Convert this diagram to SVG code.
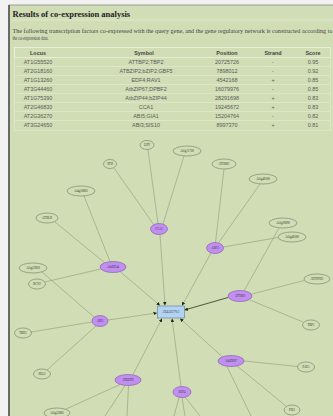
<svg xmlns="http://www.w3.org/2000/svg" width="333" height="416" viewBox="0 0 333 416">
<defs>
<marker id="arr" viewBox="0 0 10 10" refX="10" refY="5" markerWidth="3.5" markerHeight="3.5" orient="auto" markerUnits="userSpaceOnUse"><path d="M0,0 L10,5 L0,10 z" fill="#222"/></marker>
<style>
.ttl{font-family:"Liberation Serif",serif;font-weight:bold;font-size:8.5px;fill:#222}
.dsc{font-family:"Liberation Serif",serif;font-size:5.6px;fill:#444}
.th{font-family:"Liberation Sans",sans-serif;font-weight:bold;font-size:5.4px;fill:#444;text-anchor:middle}
.td{font-family:"Liberation Sans",sans-serif;font-size:5.4px;fill:#5a5a5a;text-anchor:middle}
.rl{stroke:#e6ecd6;stroke-width:0.6}
.e{stroke:#8d9b7a;stroke-width:0.6;fill:none}
.ea{stroke:#8d9b7a;stroke-width:0.6;fill:none;marker-end:url(#arr)}
.g ellipse{fill:none;stroke:#7d8a6c;stroke-width:0.7}
.p ellipse{fill:#c18ff2;stroke:#8b62ae;stroke-width:0.7}
.n text{font-family:"Liberation Serif",serif;font-size:3px;fill:#333;text-anchor:middle}
</style>
</defs>
<rect width="333" height="416" fill="#f2f2f2"/>
<rect x="9" y="5" width="330" height="420" fill="#d1ddb5" stroke="#8a8a8a" stroke-width="0.8"/>
<line x1="9" y1="5" x2="9" y2="416" stroke="#444" stroke-width="1.4"/>
<text class="ttl" x="12.5" y="16.5">Results of co-expression analysis</text>
<line x1="12" y1="20" x2="333" y2="20" stroke="#e6ecd6" stroke-width="0.7"/>
<text class="dsc" x="12.5" y="32.5" textLength="320" lengthAdjust="spacingAndGlyphs">The following transcription factors co-expressed with the query gene, and the gene regulatory network is constructed according to</text>
<text class="dsc" x="12.5" y="40" textLength="36" lengthAdjust="spacingAndGlyphs">the co-expression data.</text>
<rect x="14.5" y="47.5" width="316" height="83" fill="none" stroke="#e6ecd6" stroke-width="0.6"/>
<rect x="14.5" y="47.5" width="316" height="10" fill="none" stroke="#eef2e2" stroke-width="0.7"/>
<text class="th" x="38" y="55">Locus</text>
<text class="th" x="144" y="55">Symbol</text>
<text class="th" x="227" y="55">Position</text>
<text class="th" x="273" y="55">Strand</text>
<text class="th" x="313" y="55">Score</text>
<g>
<line class="rl" x1="15" y1="66.5" x2="330" y2="66.5"/>
<line class="rl" x1="15" y1="75.5" x2="330" y2="75.5"/>
<line class="rl" x1="15" y1="84.5" x2="330" y2="84.5"/>
<line class="rl" x1="15" y1="93.5" x2="330" y2="93.5"/>
<line class="rl" x1="15" y1="102.5" x2="330" y2="102.5"/>
<line class="rl" x1="15" y1="111.5" x2="330" y2="111.5"/>
<line class="rl" x1="15" y1="120.5" x2="330" y2="120.5"/>
</g>
<text class="td" x="38" y="64">AT1G55520</text><text class="td" x="146" y="64">ATTBP2;TBP2</text><text class="td" x="227" y="64">20725726</text><text class="td" x="273" y="64">-</text><text class="td" x="313" y="64">0.95</text>
<text class="td" x="38" y="73">AT2G18160</text><text class="td" x="146" y="73">ATBZIP2;bZIP2;GBF5</text><text class="td" x="227" y="73">7898012</text><text class="td" x="273" y="73">-</text><text class="td" x="313" y="73">0.92</text>
<text class="td" x="38" y="82">AT1G13260</text><text class="td" x="146" y="82">EDF4;RAV1</text><text class="td" x="227" y="82">4542168</text><text class="td" x="273" y="82">+</text><text class="td" x="313" y="82">0.85</text>
<text class="td" x="38" y="91">AT3G44460</text><text class="td" x="146" y="91">AtbZIP67;DPBF2</text><text class="td" x="227" y="91">16079976</text><text class="td" x="273" y="91">-</text><text class="td" x="313" y="91">0.85</text>
<text class="td" x="38" y="100">AT1G75390</text><text class="td" x="146" y="100">AtbZIP44;bZIP44</text><text class="td" x="227" y="100">28291698</text><text class="td" x="273" y="100">+</text><text class="td" x="313" y="100">0.83</text>
<text class="td" x="38" y="109">AT2G46830</text><text class="td" x="146" y="109">CCA1</text><text class="td" x="227" y="109">19245672</text><text class="td" x="273" y="109">+</text><text class="td" x="313" y="109">0.83</text>
<text class="td" x="38" y="118">AT2G36270</text><text class="td" x="146" y="118">ABI5;GIA1</text><text class="td" x="227" y="118">15204764</text><text class="td" x="273" y="118">-</text><text class="td" x="313" y="118">0.82</text>
<text class="td" x="38" y="127">AT3G24650</text><text class="td" x="146" y="127">ABI3;SIS10</text><text class="td" x="227" y="127">8997370</text><text class="td" x="273" y="127">+</text><text class="td" x="313" y="127">0.81</text>

<g id="connectors">
<line class="e" x1="148" y1="150" x2="158" y2="223.5"/>
<line class="e" x1="114" y1="168" x2="154" y2="225"/>
<line class="e" x1="184" y1="156" x2="163" y2="224"/>
<line class="ea" x1="160" y1="234.5" x2="165" y2="305.5"/>
<line class="e" x1="84" y1="196" x2="110" y2="261.5"/>
<line class="e" x1="55" y1="222" x2="105" y2="263"/>
<line class="e" x1="45" y1="282" x2="100.5" y2="269"/>
<line class="ea" x1="120" y1="271.5" x2="160" y2="305.5"/>
<line class="e" x1="42" y1="272" x2="94" y2="317"/>
<line class="e" x1="31" y1="332" x2="92" y2="322"/>
<line class="e" x1="47" y1="370" x2="96" y2="326"/>
<line class="ea" x1="108" y1="320" x2="157" y2="313"/>
<line class="e" x1="224" y1="169" x2="215.5" y2="242.5"/>
<line class="e" x1="260" y1="184" x2="218" y2="243.5"/>
<line class="e" x1="278" y1="237.5" x2="223.5" y2="247"/>
<line class="ea" x1="211" y1="253" x2="182" y2="305.5"/>
<line class="e" x1="279" y1="228" x2="244" y2="291"/>
<line class="e" x1="304" y1="280.5" x2="252" y2="294"/>
<line class="e" x1="303" y1="322" x2="250" y2="300"/>
<line x1="228" y1="297.5" x2="184.5" y2="310" stroke="#555e4a" stroke-width="1.1" marker-end="url(#arr)"/>
<line class="ea" x1="222" y1="356.5" x2="180" y2="318.5"/>
<line class="e" x1="297.5" y1="366.5" x2="244" y2="361"/>
<line class="e" x1="286" y1="406" x2="237" y2="366"/>
<line class="e" x1="227" y1="366.5" x2="251" y2="416"/>
<line class="ea" x1="181" y1="386.5" x2="172" y2="318.5"/>
<line class="e" x1="179" y1="397.5" x2="174" y2="416"/>
<line class="e" x1="182" y1="397.5" x2="185" y2="416"/>
<line class="e" x1="185" y1="397" x2="200" y2="416"/>
<line class="ea" x1="133" y1="374.5" x2="162" y2="318.5"/>
<line class="e" x1="120" y1="384.5" x2="66" y2="409"/>
<line class="e" x1="125" y1="385.5" x2="105" y2="416"/>
<line class="e" x1="128.5" y1="385.5" x2="127" y2="416"/>
</g>

<g id="n-center" class="n"><rect x="157.5" y="306" width="27" height="12" fill="#b3d3f2" stroke="#6a87a6" stroke-width="0.7"/><text x="171" y="313">AT4G05770.1</text></g>
<g id="n-lhy" class="n g"><ellipse cx="147" cy="145" rx="7" ry="4.5"/><text x="147" y="146">LHY</text></g>
<g id="n-sth" class="n g"><ellipse cx="110" cy="164" rx="6.5" ry="4.5"/><text x="110" y="165">STH</text></g>
<g id="n-at4g16805" class="n g"><ellipse cx="81" cy="191" rx="14" ry="5"/><text x="81" y="192">At4g16805</text></g>
<g id="n-athlh" class="n g"><ellipse cx="47" cy="218" rx="11" ry="5"/><text x="47" y="219">ATHLH</text></g>
<g id="n-cca1" class="n p"><ellipse cx="159" cy="229" rx="8.5" ry="5.5"/><text x="159" y="230">CCA1</text></g>
<g id="n-atbzip44" class="n p"><ellipse cx="113" cy="267" rx="13" ry="5.5"/><text x="113" y="268">AtbZIP44</text></g>
<g id="n-at5g23820" class="n g"><ellipse cx="33" cy="268" rx="14" ry="5"/><text x="33" y="269">At5g23820</text></g>
<g id="n-rcv2" class="n g"><ellipse cx="37" cy="284" rx="8.5" ry="5"/><text x="37" y="285">RCV2</text></g>
<g id="n-abi5" class="n p"><ellipse cx="100" cy="321" rx="8" ry="5.5"/><text x="100" y="322">ABI5</text></g>
<g id="n-tbh1" class="n g"><ellipse cx="23" cy="333" rx="8.5" ry="5"/><text x="23" y="334">TBH1</text></g>
<g id="n-eel2" class="n g"><ellipse cx="42" cy="374" rx="8.5" ry="5"/><text x="42" y="375">EEL2</text></g>
<g id="n-atbzip2" class="n p"><ellipse cx="128" cy="380" rx="13" ry="5.5"/><text x="128" y="381">ATBZIP2</text></g>
<g id="n-at5g35805" class="n g"><ellipse cx="57" cy="413" rx="13" ry="5"/><text x="57" y="414">At5g35805</text></g>
<g id="n-at5g11720" class="n g"><ellipse cx="187" cy="151" rx="14" ry="5"/><text x="187" y="152">At5g11720</text></g>
<g id="n-athsr1" class="n g"><ellipse cx="224" cy="164" rx="12" ry="5"/><text x="224" y="165">ATHSR1</text></g>
<g id="n-at5g40500" class="n g"><ellipse cx="263" cy="179" rx="14" ry="5"/><text x="263" y="180">At5g40500</text></g>
<g id="n-at3g28090" class="n g"><ellipse cx="283" cy="223" rx="14" ry="5"/><text x="283" y="224">At3g28090</text></g>
<g id="n-at5g48580" class="n g"><ellipse cx="292" cy="237" rx="14" ry="5"/><text x="292" y="238">At5g48580</text></g>
<g id="n-abf3" class="n p"><ellipse cx="215" cy="248" rx="8.5" ry="5.5"/><text x="215" y="249">ABF3</text></g>
<g id="n-attbp2" class="n p"><ellipse cx="240" cy="296" rx="12" ry="5.5"/><text x="240" y="297">ATTBP2</text></g>
<g id="n-athtph1" class="n g"><ellipse cx="317" cy="279" rx="13" ry="5"/><text x="317" y="280">ATHTPH1</text></g>
<g id="n-tbp1" class="n g"><ellipse cx="311" cy="325" rx="8.5" ry="5"/><text x="311" y="326">TBP1</text></g>
<g id="n-atbzip67" class="n p"><ellipse cx="231" cy="361" rx="13" ry="5.5"/><text x="231" y="362">AtbZIP67</text></g>
<g id="n-pae1" class="n g"><ellipse cx="306" cy="367" rx="8.5" ry="5"/><text x="306" y="368">PAE1</text></g>
<g id="n-pie1" class="n g"><ellipse cx="292" cy="410" rx="8" ry="5"/><text x="292" y="411">PIE1</text></g>
<g id="n-edf4" class="n p"><ellipse cx="182" cy="392" rx="9" ry="5.5"/><text x="182" y="393">EDF4</text></g>
</svg>
